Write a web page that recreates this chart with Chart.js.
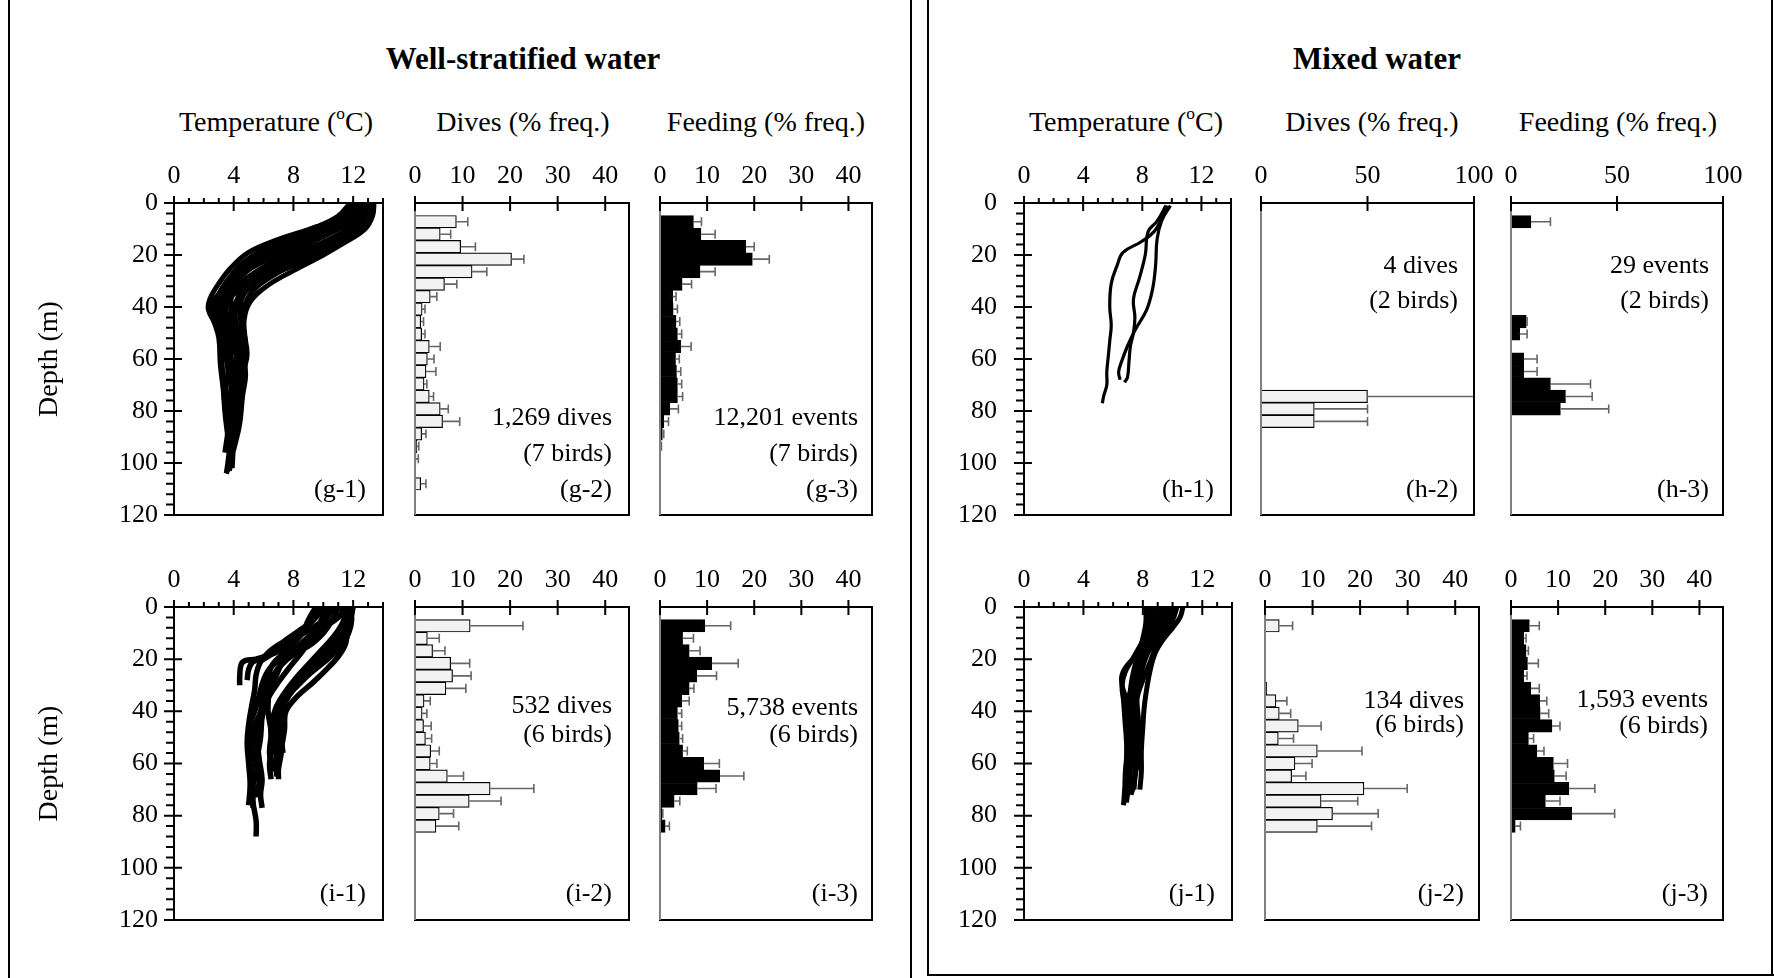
<!DOCTYPE html>
<html>
<head>
<meta charset="utf-8">
<script src="https://cdn.jsdelivr.net/npm/chart.js@4.4.1/dist/chart.umd.min.js"></script>
<style>
  body { margin: 0; background: #fff; width: 1774px; height: 978px; position: relative; overflow: hidden;
         font-family: "Liberation Serif", "Times New Roman", serif; color: #000; }
  canvas { position: absolute; }
  .hd { position: absolute; transform: translate(-50%, -50%); white-space: nowrap; font-size: 28px; }
  .hd sup { font-size: 0.62em; vertical-align: 0.7em; line-height: 0; }
  .ttl { font-weight: bold; font-size: 31px; }
  .ln { position: absolute; background: #000; }
</style>
</head>
<body>
<!-- frame lines -->
<div class="ln" style="left:8px;top:0;width:2px;height:978px"></div>
<div class="ln" style="left:910px;top:0;width:2px;height:978px"></div>
<div class="ln" style="left:927px;top:0;width:2px;height:976px"></div>
<div class="ln" style="left:927px;top:974px;width:847px;height:2px"></div>
<div class="ln" style="left:1771px;top:0;width:2px;height:976px"></div>

<div class="hd ttl" style="left:523px;top:59px">Well-stratified water</div>
<div class="hd ttl" style="left:1377px;top:59px">Mixed water</div>

<div class="hd" style="left:276px;top:122px">Temperature (<sup>o</sup>C)</div>
<div class="hd" style="left:523px;top:122px">Dives (% freq.)</div>
<div class="hd" style="left:766px;top:122px">Feeding (% freq.)</div>
<div class="hd" style="left:1126px;top:122px">Temperature (<sup>o</sup>C)</div>
<div class="hd" style="left:1372px;top:122px">Dives (% freq.)</div>
<div class="hd" style="left:1618px;top:122px">Feeding (% freq.)</div>

<script>
// depth bins (5 m) used as the category axis of every histogram
const depthBins = ['0-5', '5-10', '10-15', '15-20', '20-25', '25-30', '30-35', '35-40', '40-45',
  '45-50', '50-55', '55-60', '60-65', '65-70', '70-75', '75-80', '80-85', '85-90', '90-95',
  '95-100', '100-105', '105-110', '110-115', '115-120', '120-125'];

// dive frequency (%) and SD per bin
const g2Dives = [0, 8.7, 5.3, 9.6, 20.3, 12.0, 6.2, 3.2, 1.5, 1.2, 1.4, 3.0, 2.6, 2.3, 1.9, 3.0, 5.3, 5.8, 1.4, 0.4, 0.2, 0.1, 1.2, 0, 0];
const g2Sd    = [0, 2.4, 2.2, 3.1, 2.6, 3.1, 2.6, 1.4, 0.6, 0.6, 0.7, 2.3, 1.4, 2.1, 0.6, 0.9, 1.7, 3.6, 0.9, 0.4, 0.5, 0, 1.1, 0, 0];
const h2Dives = [0, 0, 0, 0, 0, 0, 0, 0, 0, 0, 0, 0, 0, 0, 0, 50, 25, 25, 0, 0, 0, 0, 0, 0, 0];
const h2Sd    = [0, 0, 0, 0, 0, 0, 0, 0, 0, 0, 0, 0, 0, 0, 0, 50, 25, 25, 0, 0, 0, 0, 0, 0, 0];
const i2Dives = [0, 11.6, 2.6, 3.7, 7.5, 7.9, 6.5, 1.9, 1.5, 1.8, 2.2, 3.3, 3.2, 6.8, 15.8, 11.4, 5.1, 4.4, 0, 0, 0, 0, 0, 0, 0];
const i2Sd    = [0, 11.1, 2.5, 2.6, 4.0, 3.9, 4.2, 1.3, 1.0, 1.6, 1.3, 1.8, 1.4, 3.4, 9.2, 6.7, 3.0, 4.8, 0, 0, 0, 0, 0, 0, 0];
const j2Dives = [0, 3.0, 0, 0, 0, 0, 0.35, 2.3, 3.0, 7.0, 2.8, 11.0, 6.3, 5.6, 20.8, 11.8, 14.2, 11.0, 0, 0, 0, 0, 0, 0, 0];
const j2Sd    = [0, 2.8, 0, 0, 0, 0, 0, 2.3, 2.4, 4.8, 3.2, 9.4, 3.6, 3.0, 9.1, 7.7, 9.6, 11.4, 0, 0, 0, 0, 0, 0, 0];

// feeding-event frequency (%) and SD per bin
const g3Feed = [0, 7.1, 8.7, 18.2, 19.6, 8.5, 4.7, 2.7, 2.8, 3.4, 3.7, 4.4, 3.3, 3.5, 3.7, 3.7, 2.1, 0.8, 0.5, 0.2, 0.1, 0.1, 0.1, 0.1, 0];
const g3Sd   = [0, 1.7, 3.0, 1.8, 3.6, 3.2, 2.0, 0.7, 0.9, 0.8, 0.9, 2.2, 0.8, 0.9, 0.9, 1.1, 1.8, 1.0, 0.3, 0.1, 0, 0, 0, 0, 0];
const h3Feed = [0, 9.4, 0, 0, 0, 0, 0, 0, 0, 7.2, 4.1, 0, 6.0, 6.0, 18.6, 25.7, 23.3, 0, 0, 0, 0, 0, 0, 0, 0];
const h3Sd   = [0, 9.2, 0, 0, 0, 0, 0, 0, 0, 0.4, 3.5, 0, 6.3, 6.3, 18.9, 12.6, 22.8, 0, 0, 0, 0, 0, 0, 0, 0];
const i3Feed = [0, 9.5, 4.8, 6.2, 11.0, 7.8, 6.2, 4.6, 3.7, 3.9, 4.1, 4.8, 9.3, 12.7, 7.9, 3.0, 0.4, 1.1, 0, 0, 0, 0, 0, 0, 0];
const i3Sd   = [0, 5.5, 2.3, 2.3, 5.6, 4.2, 1.0, 1.6, 0.9, 0.7, 0.7, 1.0, 3.3, 5.1, 4.0, 1.2, 0.2, 0.9, 0, 0, 0, 0, 0, 0, 0];
const j3Feed = [0, 3.9, 2.7, 3.2, 3.5, 2.7, 4.2, 6.1, 6.2, 8.7, 3.7, 5.5, 9.0, 9.2, 12.3, 7.3, 12.9, 0.9, 0, 0, 0, 0, 0, 0, 0];
const j3Sd   = [0, 2.1, 0.5, 0.5, 2.3, 0.7, 1.8, 1.5, 1.8, 1.7, 1.1, 1.5, 3.0, 2.5, 5.5, 3.1, 9.1, 1.1, 0, 0, 0, 0, 0, 0, 0];

// temperature profiles: [temperature degC, depth m]
const g1Profiles = [
  [[13.4,0],[13.3,5],[12.8,10],[11.5,15],[10.0,20],[8.0,26],[6.2,32],[5.1,38],[4.7,45],[4.8,55],[4.7,65],[4.5,75],[4.3,82]],
  [[13.2,0],[13.0,5],[12.0,10],[10.2,15],[8.5,20],[6.5,25],[5.0,30],[4.3,36],[4.0,42],[4.1,50],[4.2,60],[4.0,70],[3.9,80],[3.8,90],[3.6,100],[3.5,104]],
  [[12.9,0],[12.4,5],[11.0,10],[9.0,15],[7.0,20],[5.2,25],[4.2,30],[3.6,35],[3.3,40],[3.5,48],[3.8,58],[3.9,68],[3.7,78],[3.8,88],[3.9,98],[3.7,103]],
  [[12.5,0],[11.8,5],[10.0,10],[7.8,15],[5.8,20],[4.4,25],[3.6,30],[3.0,35],[2.5,39],[2.6,44],[3.0,50],[3.2,60],[3.3,70],[3.4,80],[3.6,90]],
  [[11.8,0],[11.0,5],[9.6,9],[7.0,14],[5.0,19],[3.8,25],[3.0,31],[2.4,37],[2.3,41],[2.7,46],[3.0,52],[3.1,62],[3.3,72],[3.4,78]],
  [[13.0,0],[12.7,6],[11.9,11],[10.8,16],[9.2,21],[7.2,26],[5.5,31],[4.5,36],[4.1,42],[4.3,50],[4.6,58],[4.8,66],[4.6,74],[4.4,85],[4.0,95]],
  [[12.2,0],[11.5,6],[10.2,11],[8.2,16],[6.3,21],[4.8,26],[3.9,31],[3.3,36],[3.0,42],[3.1,48],[3.4,56],[3.6,64],[3.5,72],[3.7,80],[3.6,88],[3.4,96]],
  [[13.3,0],[13.1,4],[12.5,9],[11.2,14],[9.5,19],[7.5,24],[5.8,29],[4.8,34],[4.4,40],[4.5,48],[4.4,56],[4.2,64],[4.4,72],[4.2,80],[4.0,92],[3.9,102]],
  [[12.0,0],[11.2,5],[9.8,9],[8.0,13],[6.0,18],[4.6,23],[3.8,28],[3.2,33],[2.8,38],[2.8,44],[3.2,52],[3.5,60],[3.8,68],[4.0,76],[3.8,85],[3.6,94]],
  [[12.7,0],[12.2,5],[10.8,10],[9.2,14],[7.5,18],[5.6,23],[4.5,28],[4.0,33],[3.8,38],[3.9,45],[4.3,52],[4.4,60],[4.5,70],[4.2,78],[4.1,88],[3.8,100],[3.5,104]],
  [[13.1,0],[12.9,5],[12.3,10],[11.0,15],[9.0,20],[6.8,25],[5.0,30],[4.0,35],[3.5,40],[3.7,46],[4.1,53],[4.3,62],[4.1,71],[3.9,79]],
  [[12.4,0],[12.0,5],[11.2,9],[9.6,14],[7.8,19],[6.2,24],[4.9,29],[4.1,34],[3.4,39],[3.1,44],[3.4,50],[3.6,57],[3.9,65],[4.2,73],[4.3,82],[4.1,90],[3.8,98]],
  [[13.0,0],[12.6,5],[11.6,10],[10.0,15],[8.0,20],[6.0,25],[4.6,30],[3.8,35],[3.2,40],[3.0,45],[3.3,52],[3.7,60],[4.0,68],[4.1,76],[4.0,84],[3.9,92]],
  [[12.8,0],[12.5,6],[11.6,11],[10.0,16],[8.2,21],[6.6,26],[5.3,31],[4.4,36],[3.9,41],[3.7,47],[3.9,54],[4.3,61],[4.6,68],[4.5,76],[4.3,84]],
  [[12.6,0],[12.0,4],[10.6,9],[8.6,14],[6.6,19],[5.0,24],[4.0,29],[3.4,34],[2.9,39],[2.9,45],[3.4,52],[3.8,59],[4.2,66],[4.4,74],[4.1,82],[3.9,88]],
  [[13.2,0],[12.8,7],[12.0,12],[10.4,17],[8.6,22],[6.9,27],[5.6,32],[4.9,37],[4.6,43],[4.7,50],[4.9,58],[4.7,64]]
];
const h1Profiles = [
  [[9.7,1],[9.3,6],[8.8,11],[7.9,15],[6.7,19],[6.3,24],[5.9,31],[5.8,40],[5.9,47],[5.8,53],[5.7,59],[5.6,65],[5.6,70],[5.4,74],[5.3,77]],
  [[9.6,1],[9.0,7],[8.4,11],[8.2,20],[7.8,29],[7.4,37],[7.5,44],[7.4,50],[7.2,55],[7.1,61],[7.0,67],[6.8,69]],
  [[9.9,1],[9.3,7],[9.0,14],[8.9,24],[8.7,33],[8.3,41],[7.5,49],[7.0,55],[6.6,61],[6.4,65],[6.5,68]]
];
const i1Profiles = [
  [[11.8,0],[11.9,5],[11.7,10],[11.2,15],[10.3,20],[9.2,25],[8.3,30],[7.5,35],[7.3,42],[7.2,50],[7.3,56]],
  [[11.2,0],[11.5,6],[11.3,12],[10.5,17],[9.5,22],[8.6,27],[7.7,32],[7.0,38],[6.8,46],[6.9,54],[6.8,60],[6.9,65]],
  [[10.5,0],[10.2,5],[9.3,10],[8.5,14],[7.8,18],[7.2,22],[6.8,27],[6.4,32],[6.3,40],[6.5,48],[6.4,56],[6.6,63]],
  [[10.0,0],[9.5,4],[8.8,8],[8.0,13],[7.0,17],[5.5,20],[4.8,20.5],[4.5,22],[4.4,27],[4.4,30]],
  [[11.0,0],[10.6,5],[10.0,10],[9.0,15],[7.5,19],[6.5,23],[6.0,28],[5.7,34],[5.4,40],[5.1,45],[5.0,52],[5.1,60],[5.3,68],[5.3,75],[5.5,82],[5.5,88]],
  [[9.5,0],[9.0,5],[8.6,10],[8.0,14],[7.3,18],[6.6,22],[6.3,27],[6.0,33],[5.8,40],[5.4,46],[5.3,55],[5.5,63],[5.2,70],[5.3,77]],
  [[11.5,0],[11.0,4],[10.0,8],[9.2,12],[8.6,17],[7.9,22],[7.1,28],[6.3,35],[5.9,42],[5.6,50],[5.7,58],[5.9,66],[5.8,72],[5.9,77]],
  [[12.0,0],[11.8,5],[11.3,10],[10.5,15],[9.6,20],[8.8,25],[8.0,30],[7.3,36],[6.9,42],[7.1,48],[7.2,55],[7.0,62],[7.0,66]],
  [[10.8,0],[10.0,5],[9.0,9],[7.8,13],[6.8,17],[6.0,20],[5.3,21],[5.0,24],[4.9,28]],
  [[11.4,0],[11.6,8],[11.5,14],[11.0,19],[10.2,24],[9.3,29],[8.3,34],[7.5,40],[7.4,47],[7.2,54]],
  [[11.6,0],[11.3,6],[10.6,12],[9.8,17],[9.0,22],[8.2,27],[7.4,33],[6.8,39],[6.5,46],[6.6,53],[6.4,60],[6.5,66]],
  [[10.2,0],[9.8,6],[9.3,12],[8.5,16],[7.6,20],[6.9,24],[6.4,29],[6.1,35],[5.9,42],[5.8,50],[5.6,58],[5.7,66],[5.6,73]],
  [[11.9,0],[11.7,5],[11.4,11],[10.9,16],[10.0,21],[9.0,26],[8.1,31],[7.4,37],[7.0,44],[6.9,50],[7.0,57]],
  [[9.8,0],[9.3,5],[8.4,9],[7.4,13],[6.4,17],[5.8,21],[5.5,26],[5.4,32],[5.2,38],[5.0,45],[4.9,52],[5.0,60],[5.1,68],[5.0,76]]
];
const j1Profiles = [
  [[10.7,0],[10.5,4],[10.0,8],[9.3,13],[8.8,18],[8.5,24],[8.3,30],[8.1,38],[8.0,46],[7.9,55],[7.9,63],[7.8,70]],
  [[10.3,0],[10.0,5],[9.4,10],[8.9,15],[8.5,21],[8.0,28],[7.6,35],[7.4,44],[7.3,52],[7.2,60],[7.1,67],[7.0,72]],
  [[9.8,0],[9.6,4],[9.2,9],[8.6,15],[8.0,21],[7.5,27],[7.2,34],[7.0,42],[7.1,50],[7.0,58],[6.9,66],[6.9,73]],
  [[9.0,0],[8.8,5],[8.3,10],[7.8,15],[7.3,20],[6.8,25],[6.6,30],[6.7,36],[6.8,44],[6.9,52],[6.9,60],[6.8,68],[6.7,76]],
  [[8.5,0],[8.4,6],[8.1,12],[7.8,18],[7.6,24],[7.5,31],[7.4,38],[7.3,46],[7.2,54],[7.1,62],[7.0,70],[6.9,74]],
  [[8.2,0],[8.2,6],[8.0,12],[7.7,18],[7.4,24],[7.2,30],[7.1,37],[7.2,45],[7.4,52],[7.5,60],[7.4,68],[7.2,72]],
  [[9.3,0],[9.1,5],[8.6,10],[8.2,16],[7.9,22],[7.7,28],[7.6,35],[7.7,43],[7.8,50],[7.7,58],[7.5,64],[7.4,70]],
  [[10.0,0],[9.7,5],[9.0,10],[8.3,14],[7.7,18],[7.0,22],[6.6,26],[6.6,30],[6.8,34],[7.0,42],[7.0,50],[6.9,58],[6.8,66],[6.9,72]],
  [[9.5,0],[9.3,5],[8.9,10],[8.5,15],[8.1,21],[7.8,27],[7.5,34],[7.4,41],[7.5,48],[7.6,56],[7.5,63],[7.3,69]],
  [[8.8,0],[8.6,6],[8.3,12],[8.0,18],[7.7,24],[7.3,30],[7.0,36],[6.9,44],[7.0,52],[7.1,60],[7.0,68],[6.9,75]]
];

Chart.defaults.font.family = '"Liberation Serif", "Times New Roman", serif';
Chart.defaults.color = '#000';

// frame, crossing tick marks, error bars and in-panel labels
const deco = {
  id: 'deco',
  afterDatasetsDraw(chart) {
    const { ctx, scales } = chart;
    chart.data.datasets.forEach((ds, i) => {
      if (!ds.sd) return;
      const meta = chart.getDatasetMeta(i);
      ctx.save();
      ctx.strokeStyle = '#666';
      ctx.lineWidth = 1.6;
      meta.data.forEach((bar, j) => {
        const sd = ds.sd[j];
        if (!sd) return;
        const x0 = scales.x.getPixelForValue(ds.data[j]);
        const x1 = scales.x.getPixelForValue(ds.data[j] + sd);
        const half = bar.height * 0.36;
        ctx.beginPath();
        ctx.moveTo(x0, bar.y); ctx.lineTo(x1, bar.y);
        ctx.moveTo(x1, bar.y - half); ctx.lineTo(x1, bar.y + half);
        ctx.stroke();
      });
      ctx.restore();
    });
  },
  afterDraw(chart, args, o) {
    const { ctx, chartArea: a, scales } = chart;
    ctx.save();
    ctx.strokeStyle = '#000';
    ctx.lineWidth = 2;
    ctx.beginPath();
    ctx.rect(a.left, a.top, a.right - a.left, a.bottom - a.top);
    ctx.stroke();
    if (o.greyLeft) {
      ctx.strokeStyle = '#808080';
      ctx.beginPath(); ctx.moveTo(a.left, a.top); ctx.lineTo(a.left, a.bottom); ctx.stroke();
      ctx.strokeStyle = '#000';
    }
    const xs = scales.x;
    ctx.beginPath();
    xs.ticks.forEach(t => {
      const px = xs.getPixelForValue(t.value);
      ctx.moveTo(px, a.top - 7); ctx.lineTo(px, a.top + 8);
    });
    if (o.xMinor) {
      for (let v = xs.min; v <= xs.max + 1e-6; v += o.xMinor) {
        const px = xs.getPixelForValue(v);
        ctx.moveTo(px, a.top - 5); ctx.lineTo(px, a.top);
      }
    }
    if (o.yMinor) {
      const ys = scales.y;
      ys.ticks.forEach(t => {
        const py = ys.getPixelForValue(t.value);
        ctx.moveTo(a.left - 10, py); ctx.lineTo(a.left + 8, py);
      });
      for (let v = ys.min; v <= ys.max + 1e-6; v += o.yMinor) {
        const py = ys.getPixelForValue(v);
        ctx.moveTo(a.left - 8, py); ctx.lineTo(a.left, py);
      }
    }
    ctx.stroke();
    ctx.fillStyle = '#000';
    ctx.font = '26px "Liberation Serif", "Times New Roman", serif';
    ctx.textAlign = 'right';
    ctx.textBaseline = 'alphabetic';
    (o.notes || []).forEach(n => ctx.fillText(n[0], a.right - o.inset, a.top + n[1]));
    if (o.tag) ctx.fillText(o.tag, a.right - o.inset, a.top + 294);
    ctx.restore();
  }
};
Chart.register(deco);

function makeCanvas(x, y, w, h) {
  const c = document.createElement('canvas');
  c.width = w; c.height = h;
  c.style.left = x + 'px'; c.style.top = y + 'px';
  c.style.width = w + 'px'; c.style.height = h + 'px';
  document.body.appendChild(c);
  return c;
}

// room kept round each plot area; large enough that label overhang never moves it
const TOP_AXIS = 45, PAD_R = 40, PAD_B = 50, PAD_L = 40;

function tempPanel(box, profiles, tag, withTitle, labelPad, lineW) {
  const L = withTitle ? 141 : 70;
  const cv = makeCanvas(box.x - L, box.y - TOP_AXIS, box.w + L + PAD_R, box.h + TOP_AXIS + PAD_B);
  return new Chart(cv, {
    type: 'scatter',
    data: {
      datasets: profiles.map(p => ({
        data: p.map(([t, d]) => ({ x: t, y: d })),
        showLine: true, borderColor: '#000', backgroundColor: '#000',
        borderWidth: lineW, pointRadius: 0, tension: 0.4
      }))
    },
    options: {
      responsive: false, animation: false, events: [],
      layout: { padding: { left: 0, top: 0, right: PAD_R, bottom: PAD_B } },
      plugins: {
        legend: { display: false }, tooltip: { enabled: false },
        deco: { xMinor: 1, yMinor: 4, tag, inset: 17 }
      },
      scales: {
        x: {
          type: 'linear', position: 'top', min: 0, max: 14,
          ticks: { stepSize: 4, includeBounds: false, padding: 11, font: { size: 26 } },
          grid: { display: false, drawTicks: false }, border: { display: false },
          afterFit: s => { s.height = TOP_AXIS; }
        },
        y: {
          type: 'linear', position: 'left', reverse: true, min: 0, max: 120,
          ticks: { stepSize: 20, padding: labelPad, font: { size: 26 } },
          grid: { display: false, drawTicks: false }, border: { display: false },
          title: { display: withTitle, text: 'Depth (m)', font: { size: 28 }, padding: 0 },
          afterFit: s => { s.width = L; }
        }
      }
    }
  });
}

function histPanel(box, values, sd, max, step, fill, notes, tag, inset) {
  const cv = makeCanvas(box.x - PAD_L, box.y - TOP_AXIS, box.w + PAD_L + PAD_R, box.h + TOP_AXIS + PAD_B);
  return new Chart(cv, {
    type: 'bar',
    data: {
      labels: depthBins,
      datasets: [{
        data: values, sd,
        backgroundColor: fill, borderColor: '#000', borderWidth: 1.2,
        barPercentage: 1, categoryPercentage: 1
      }]
    },
    options: {
      indexAxis: 'y',
      responsive: false, animation: false, events: [],
      layout: { padding: { left: PAD_L, top: 0, right: PAD_R, bottom: PAD_B } },
      plugins: {
        legend: { display: false }, tooltip: { enabled: false },
        deco: { greyLeft: true, notes, tag, inset }
      },
      scales: {
        x: {
          type: 'linear', position: 'top', min: 0, max,
          ticks: { stepSize: step, includeBounds: false, padding: 11, font: { size: 26 } },
          grid: { display: false, drawTicks: false }, border: { display: false },
          afterFit: s => { s.height = TOP_AXIS; }
        },
        y: { display: false }
      }
    }
  });
}

const DIVE_FILL = '#f2f2f2', FEED_FILL = '#000';

// well-stratified water
tempPanel({ x: 174, y: 203, w: 209, h: 312 }, g1Profiles, '(g-1)', true, 16, 5);
histPanel({ x: 415, y: 203, w: 214, h: 312 }, g2Dives, g2Sd, 45, 10, DIVE_FILL,
  [['1,269 dives', 222], ['(7 birds)', 258]], '(g-2)', 17);
histPanel({ x: 660, y: 203, w: 212, h: 312 }, g3Feed, g3Sd, 45, 10, FEED_FILL,
  [['12,201 events', 222], ['(7 birds)', 258]], '(g-3)', 14);
tempPanel({ x: 174, y: 607, w: 209, h: 313 }, i1Profiles, '(i-1)', true, 16, 5.5);
histPanel({ x: 415, y: 607, w: 214, h: 313 }, i2Dives, i2Sd, 45, 10, DIVE_FILL,
  [['532 dives', 106], ['(6 birds)', 135]], '(i-2)', 17);
histPanel({ x: 660, y: 607, w: 212, h: 313 }, i3Feed, i3Sd, 45, 10, FEED_FILL,
  [['5,738 events', 108], ['(6 birds)', 135]], '(i-3)', 14);

// mixed water
tempPanel({ x: 1024, y: 203, w: 207, h: 312 }, h1Profiles, '(h-1)', false, 27, 3.2);
histPanel({ x: 1261, y: 203, w: 213, h: 312 }, h2Dives, h2Sd, 100, 50, DIVE_FILL,
  [['4 dives', 70], ['(2 birds)', 105]], '(h-2)', 16);
histPanel({ x: 1511, y: 203, w: 212, h: 312 }, h3Feed, h3Sd, 100, 50, FEED_FILL,
  [['29 events', 70], ['(2 birds)', 105]], '(h-3)', 14);
tempPanel({ x: 1024, y: 607, w: 208, h: 313 }, j1Profiles, '(j-1)', false, 27, 5);
histPanel({ x: 1265, y: 607, w: 214, h: 313 }, j2Dives, j2Sd, 45, 10, DIVE_FILL,
  [['134 dives', 101], ['(6 birds)', 125]], '(j-2)', 15);
histPanel({ x: 1511, y: 607, w: 212, h: 313 }, j3Feed, j3Sd, 45, 10, FEED_FILL,
  [['1,593 events', 100], ['(6 birds)', 126]], '(j-3)', 15);
</script>
</body>
</html>
